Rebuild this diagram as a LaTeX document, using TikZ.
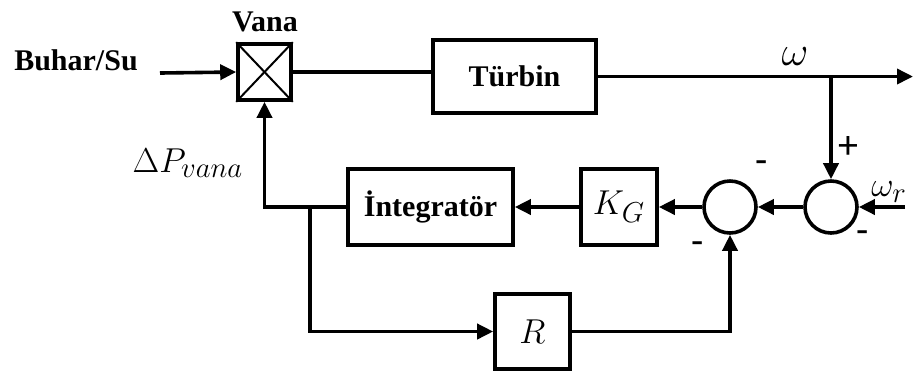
\documentclass[tikz,border=0pt]{standalone}
\usepackage{fontspec}
\setmainfont{Liberation Serif}
\newfontfamily\signfont{Carlito}
\usetikzlibrary{arrows.meta,calc}
\tikzset{
  blk/.style={draw, line width=1.8pt, rectangle, inner sep=0pt},
  sumc/.style={draw, line width=1.8pt, circle, minimum size=26pt, inner sep=0pt},
  conn/.style={line width=1.8pt},
  arr/.style={conn, -{Triangle[length=8pt,width=7.5pt]}},
  lbl/.style={font=\fontsize{15}{18}\selectfont\bfseries, inner sep=0pt},
  mlbl/.style={font=\fontsize{19}{22}\selectfont, inner sep=0pt},
  sgn/.style={font=\fontsize{20}{22}\selectfont\signfont, inner sep=0pt}
}
\begin{document}
\begin{tikzpicture}[x=0.5pt,y=-0.5pt]
\useasboundingbox (0,0) rectangle (921,372);
% blocks
\node[blk, minimum width=26.5pt, minimum height=28pt] (valve) at (264.5,72) {};
\draw[line width=1pt] (valve.north west) -- (valve.south east);
\draw[line width=1pt] (valve.north east) -- (valve.south west);
\node[blk, minimum width=81.5pt, minimum height=36.5pt, lbl] (turb) at (514.5,76.5) {Türbin};
\node[blk, minimum width=82.5pt, minimum height=38pt, lbl] (integ) at (430.5,207) {İntegratör};
\node[blk, minimum width=38pt, minimum height=38pt, mlbl] (kg) at (619,207) {$K_G$};
\node[blk, minimum width=37.5pt, minimum height=37.5pt, mlbl] (rr) at (532.5,331.5) {$R$};
\node[sumc] (s1) at (730,207) {};
\node[sumc] (s2) at (831,207) {};
% coordinates
\coordinate (in) at (160,73);
\coordinate (out) at (913,76.5);
\coordinate (br) at (831,76.5);
\coordinate (wr) at (905,207);
\coordinate (br2) at (310,207);
% connectors
\draw[arr] (in) -- (valve.west);
\draw[conn] (valve.east) -- (valve.east -| turb.west);
\draw[arr] (turb.east) -- (out);
\draw[arr] (br) -- (s2.north);
\draw[arr] (wr) -- (s2.east);
\draw[arr] (s2.west) -- (s1.east);
\draw[arr] (s1.west) -- (kg.east);
\draw[arr] (kg.west) -- (integ.east);
\draw[arr] (integ.west) -| (valve.south);
\draw[arr] (br2) |- (rr.west);
\draw[arr] (rr.east) -| (s1.south);
% labels
\node[lbl] (vana) at (265,22) {Vana};
\node[lbl] (buhar) at (76,60) {Buhar/Su};
\node[mlbl] (dp) at (188,163) {$\Delta P_{vana}$};
\node[mlbl, font=\fontsize{21}{24}\selectfont] (om) at (795,57) {$\omega$};
\node[mlbl, anchor=west] (omr) at (871,192) {$\omega_r$};
\node[sgn] (p1) at (848,147) {+};
\node[sgn] (m1) at (762,167) {-};
\node[sgn] (m2) at (698,248) {-};
\node[sgn] (m3) at (863,237) {-};
\end{tikzpicture}
\end{document}
